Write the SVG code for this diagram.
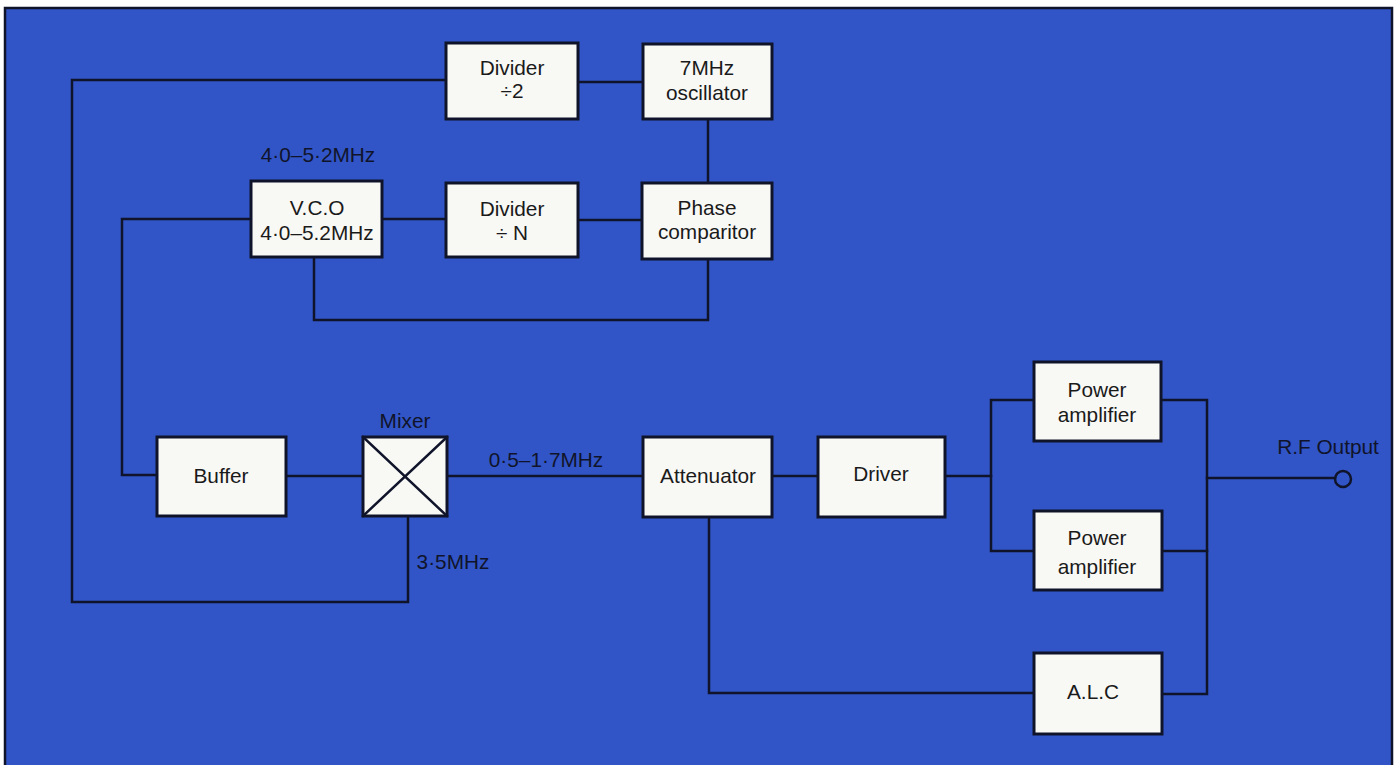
<svg xmlns="http://www.w3.org/2000/svg" width="1398" height="765" viewBox="0 0 1398 765">
<style>
.bg{fill:#3154c7;stroke:#10142a;stroke-width:2.5}
.box{fill:#f8f8f5;stroke:#10142a;stroke-width:3}
.ln{fill:none;stroke:#10142a;stroke-width:2.5;stroke-linejoin:miter;stroke-linecap:square}
.t{font-family:"Liberation Sans",Arial,sans-serif;font-size:20.8px;fill:#1a1a1a;text-anchor:middle}
.lb{font-family:"Liberation Sans",Arial,sans-serif;font-size:20.8px;fill:#10142a;text-anchor:middle}
</style>
<rect x="0" y="0" width="1398" height="765" fill="#ffffff"/>
<rect class="bg" x="5" y="8" width="1387" height="770"/>
<g id="connectors">
<polyline class="ln" points="446,80 72,80 72,602 408,602 408,516"/>
<line class="ln" x1="578" y1="82" x2="643" y2="82"/>
<line class="ln" x1="708" y1="119" x2="708" y2="183"/>
<line class="ln" x1="382" y1="219" x2="446" y2="219"/>
<line class="ln" x1="578" y1="220" x2="643" y2="220"/>
<polyline class="ln" points="251,219 122,219 122,475 157,475"/>
<polyline class="ln" points="314,257 314,320 708,320 708,259"/>
<line class="ln" x1="286" y1="476" x2="363" y2="476"/>
<line class="ln" x1="447" y1="476" x2="643" y2="476"/>
<polyline class="ln" points="709,517 709,693 1034,693"/>
<line class="ln" x1="772" y1="476" x2="818" y2="476"/>
<line class="ln" x1="945" y1="476" x2="991" y2="476"/>
<polyline class="ln" points="1034,400 991,400 991,551 1034,551"/>
<polyline class="ln" points="1161,400 1207,400 1207,694 1162,694"/>
<line class="ln" x1="1161" y1="551" x2="1207" y2="551"/>
<line class="ln" x1="1207" y1="478" x2="1335" y2="478"/>
<circle cx="1343" cy="479" r="8" fill="none" stroke="#10142a" stroke-width="2.5"/>
</g>
<g id="divider2"><rect class="box" x="446" y="43" width="132" height="76"/><text class="t" x="512" y="75">Divider</text><text class="t" x="512" y="98">÷2</text></g>
<g id="osc7"><rect class="box" x="643" y="44" width="129" height="75"/><text class="t" x="707" y="75">7MHz</text><text class="t" x="707" y="100">oscillator</text></g>
<g id="vco"><rect class="box" x="251" y="181" width="131" height="76"/><text class="t" x="317" y="215">V.C.O</text><text class="t" x="317" y="240">4·0–5.2MHz</text></g>
<g id="dividerN"><rect class="box" x="446" y="183" width="132" height="74"/><text class="t" x="512" y="216">Divider</text><text class="t" x="512" y="240">÷ N</text></g>
<g id="phase"><rect class="box" x="642" y="183" width="130" height="76"/><text class="t" x="707" y="215">Phase</text><text class="t" x="707" y="239">comparitor</text></g>
<g id="buffer"><rect class="box" x="157" y="437" width="129" height="79"/><text class="t" x="221" y="483">Buffer</text></g>
<g id="mixer"><rect class="box" x="363" y="437" width="84" height="79"/><line class="ln" x1="363" y1="437" x2="447" y2="516"/><line class="ln" x1="447" y1="437" x2="363" y2="516"/><text class="lb" x="405" y="428">Mixer</text></g>
<g id="attenuator"><rect class="box" x="643" y="437" width="129" height="80"/><text class="t" x="708" y="483">Attenuator</text></g>
<g id="driver"><rect class="box" x="818" y="437" width="127" height="80"/><text class="t" x="881" y="481">Driver</text></g>
<g id="pa1"><rect class="box" x="1034" y="362" width="127" height="79"/><text class="t" x="1097" y="397">Power</text><text class="t" x="1097" y="422">amplifier</text></g>
<g id="pa2"><rect class="box" x="1034" y="511" width="128" height="79"/><text class="t" x="1097" y="545">Power</text><text class="t" x="1097" y="574">amplifier</text></g>
<g id="alc"><rect class="box" x="1034" y="653" width="128" height="81"/><text class="t" x="1093" y="699">A.L.C</text></g>
<g id="labels">
<text class="lb" x="318" y="162">4·0–5·2MHz</text>
<text class="lb" x="546" y="467">0·5–1·7MHz</text>
<text class="lb" x="453" y="569">3·5MHz</text>
<text class="lb" x="1328" y="454">R.F Output</text>
</g>
</svg>
